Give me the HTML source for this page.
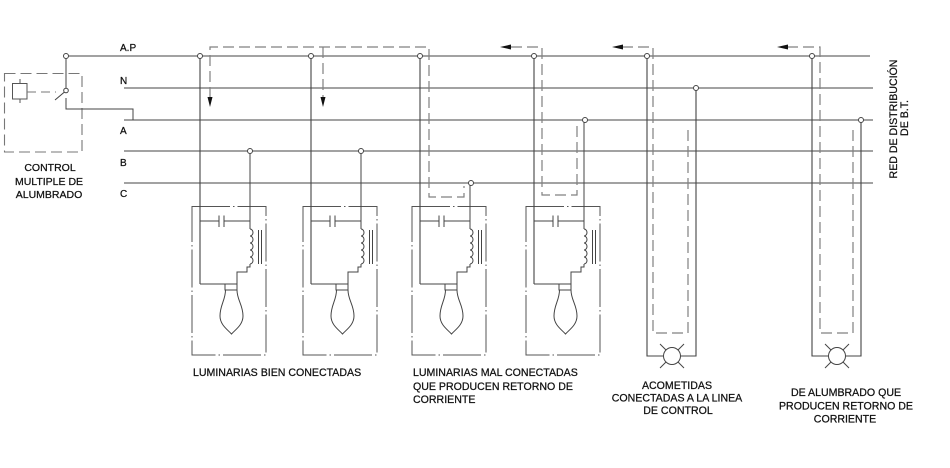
<!DOCTYPE html>
<html>
<head>
<meta charset="utf-8">
<style>
  html,body{margin:0;padding:0;background:#fff;}
  svg{display:block;}
  text{font-family:"Liberation Sans",Arial,sans-serif;fill:#111;stroke:#111;stroke-width:0.25px;}
</style>
</head>
<body>
<svg width="950" height="468" viewBox="0 0 950 468" xmlns="http://www.w3.org/2000/svg">
  <defs>
    <g id="lum">
      <rect x="-8" y="206.5" width="74" height="148.5" fill="none" stroke="#555" stroke-width="1" stroke-dasharray="38 3 1.5 3"/>
      <line x1="0" y1="56" x2="0" y2="284" stroke="#444" stroke-width="1.1"/>
      <line x1="0" y1="221" x2="19" y2="221" stroke="#444" stroke-width="1"/>
      <line x1="24" y1="221" x2="50" y2="221" stroke="#444" stroke-width="1"/>
      <line x1="19" y1="215.5" x2="19" y2="227" stroke="#444" stroke-width="1"/>
      <line x1="24" y1="215.5" x2="24" y2="227" stroke="#444" stroke-width="1"/>
      <line x1="50" y1="221" x2="50" y2="229" stroke="#444" stroke-width="1"/>
      <path d="M50,229 a3,3.5 0 0 1 0,7 a3,3.5 0 0 1 0,7 a3,3.5 0 0 1 0,7 a3,3.5 0 0 1 0,7 a3,3.5 0 0 1 0,7" fill="none" stroke="#444" stroke-width="1"/>
      <line x1="58.5" y1="230" x2="58.5" y2="264" stroke="#444" stroke-width="1"/>
      <line x1="61.5" y1="230" x2="61.5" y2="264" stroke="#444" stroke-width="1"/>
      <path d="M50,264 L50,267 L47,267 L47,272 L37,272 L37,284" fill="none" stroke="#444" stroke-width="1"/>
      <line x1="0" y1="284" x2="37" y2="284" stroke="#444" stroke-width="1"/>
      <path d="M25,284 L25,290 L37,290 L37,284" fill="none" stroke="#444" stroke-width="1"/>
      <path d="M25.5,290 C25.5,300 20,305 20,316 C20,325 28,330 31.5,334 C35,330 43,325 43,316 C43,305 37,300 37,290" fill="none" stroke="#444" stroke-width="1"/>
    </g>
  </defs>

  <g stroke="#444" stroke-width="1.1">
    <line x1="66" y1="56" x2="870" y2="56"/>
    <line x1="124" y1="88" x2="873" y2="88"/>
    <line x1="124" y1="120" x2="873" y2="120"/>
    <line x1="124" y1="151" x2="873" y2="151"/>
    <line x1="124" y1="183" x2="873" y2="183"/>
  </g>

  <g font-size="10">
    <text x="120" y="51">A.P</text>
    <text x="120" y="84">N</text>
    <text x="120" y="134">A</text>
    <text x="120" y="166">B</text>
    <text x="120" y="197">C</text>
  </g>

  <rect x="4.5" y="73.5" width="77.5" height="78.5" fill="none" stroke="#777" stroke-width="1.1" stroke-dasharray="11 5"/>
  <rect x="12.5" y="83.5" width="14.5" height="15.5" fill="none" stroke="#555" stroke-width="1"/>
  <line x1="20" y1="79" x2="20" y2="83.5" stroke="#555" stroke-width="1"/>
  <line x1="20" y1="99" x2="20" y2="103" stroke="#555" stroke-width="1"/>
  <line x1="27" y1="92" x2="56" y2="92" stroke="#777" stroke-width="1.1" stroke-dasharray="9 5"/>
  <line x1="66" y1="58.5" x2="66" y2="88" stroke="#444" stroke-width="1"/>
  <line x1="55" y1="100" x2="64.5" y2="92" stroke="#444" stroke-width="1"/>
  <circle cx="66" cy="90.5" r="2.3" fill="#fff" stroke="#444" stroke-width="1"/>
  <path d="M66,98 L66,109 L133,109 L133,120" fill="none" stroke="#444" stroke-width="1"/>
  <circle cx="66" cy="56" r="2.5" fill="#fff" stroke="#444" stroke-width="1"/>
  <g font-size="10.5" text-anchor="middle">
    <text x="50" y="171">CONTROL</text>
    <text x="49" y="185">MULTIPLE DE</text>
    <text x="49" y="198">ALUMBRADO</text>
  </g>

  <use href="#lum" x="200" y="0"/>
  <use href="#lum" x="311" y="0"/>
  <use href="#lum" x="420" y="0"/>
  <use href="#lum" x="534" y="0"/>

  <g stroke="#444" stroke-width="1">
    <line x1="250" y1="151" x2="250" y2="221"/>
    <line x1="361" y1="151" x2="361" y2="221"/>
    <line x1="470" y1="183" x2="470" y2="221"/>
    <line x1="584" y1="120" x2="584" y2="221"/>
  </g>

  <g stroke="#444" stroke-width="1.1" fill="none">
    <path d="M647,56 L647,356 L664,356"/>
    <path d="M696,88 L696,356 L680,356"/>
    <path d="M812,56 L812,356 L829,356"/>
    <path d="M861,120 L861,356 L845,356"/>
  </g>
  <g stroke="#444" stroke-width="1" fill="#fff">
    <line x1="660" y1="344" x2="684" y2="368"/>
    <line x1="660" y1="368" x2="684" y2="344"/>
    <circle cx="672" cy="356" r="8.5"/>
    <line x1="825" y1="344" x2="849" y2="368"/>
    <line x1="825" y1="368" x2="849" y2="344"/>
    <circle cx="837" cy="356" r="8.5"/>
  </g>

  <g stroke="#808080" stroke-width="1.2" fill="none" stroke-dasharray="11 5">
    <path d="M210,98 L210,47 L429,47 L429,197 L464,197 L464,186"/>
    <path d="M323,47 L323,98"/>
    <path d="M511,47 L542,47 L542,195 L577,195 L577,123"/>
    <path d="M622,47 L653,47 L653,333 L688,333 L688,125"/>
    <path d="M787,47 L820,47 L820,333 L853,333 L853,125"/>
  </g>
  <g fill="#111">
    <polygon points="210,107 207.5,97 212.5,97"/>
    <polygon points="323,107 320.5,97 325.5,97"/>
    <polygon points="500,47 511,44.5 511,49.5"/>
    <polygon points="612,47 623,44.5 623,49.5"/>
    <polygon points="777,47 788,44.5 788,49.5"/>
  </g>

  <g fill="#fff" stroke="#444" stroke-width="1">
    <circle cx="200" cy="56" r="2.5"/>
    <circle cx="311" cy="56" r="2.5"/>
    <circle cx="420" cy="56" r="2.5"/>
    <circle cx="534" cy="56" r="2.5"/>
    <circle cx="647" cy="56" r="2.5"/>
    <circle cx="812" cy="56" r="2.5"/>
    <circle cx="250" cy="151" r="2.5"/>
    <circle cx="361" cy="151" r="2.5"/>
    <circle cx="471" cy="183" r="2.5"/>
    <circle cx="585" cy="120" r="2.5"/>
    <circle cx="696" cy="88" r="2.5"/>
    <circle cx="861" cy="120" r="2.5"/>
  </g>

  <g font-size="10.6">
    <text x="193" y="376">LUMINARIAS BIEN CONECTADAS</text>
    <text x="413" y="376">LUMINARIAS MAL CONECTADAS</text>
    <text x="413" y="390">QUE PRODUCEN RETORNO DE</text>
    <text x="413" y="403">CORRIENTE</text>
  </g>
  <g font-size="10.6" text-anchor="middle">
    <text x="677" y="389">ACOMETIDAS</text>
    <text x="677" y="401.5">CONECTADAS A LA LINEA</text>
    <text x="678" y="414">DE CONTROL</text>
    <text x="846" y="396">DE ALUMBRADO QUE</text>
    <text x="846" y="409.5">PRODUCEN RETORNO DE</text>
    <text x="845" y="422.5">CORRIENTE</text>
  </g>

  <g font-size="10.6" text-anchor="middle">
    <text transform="translate(897,119) rotate(-90)">RED DE DISTRIBUCIÓN</text>
    <text transform="translate(908,118) rotate(-90)">DE B.T.</text>
  </g>
</svg>
</body>
</html>
